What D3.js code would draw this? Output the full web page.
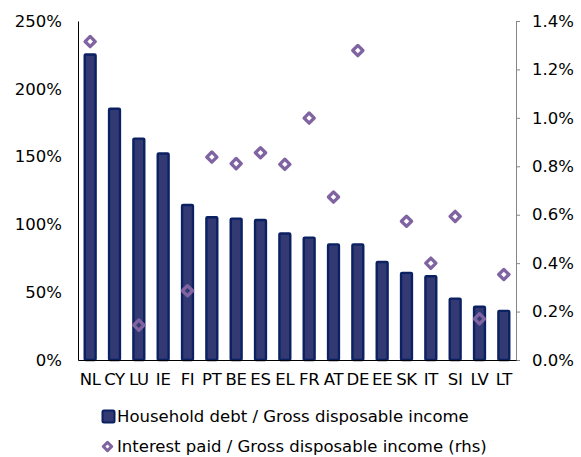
<!DOCTYPE html>
<html><head><meta charset="utf-8">
<script src="https://cdn.jsdelivr.net/npm/d3@7"></script>
<style>body{margin:0;background:#fff}svg{display:block;font-family:Verdana,"DejaVu Sans",sans-serif}</style>
</head><body><div id="chart"></div>
<script>
const categories = ["NL","CY","LU","IE","FI","PT","BE","ES","EL","FR","AT","DE","EE","SK","IT","SI","LV","LT"];
const householdDebt = [226,186,164,153,115,106,105,104,94,91,86,86,73,65,62.5,46,40,37];
const interestPaid = [1.315,null,0.144,null,0.286,0.838,0.811,0.856,0.808,0.999,0.673,1.278,null,0.573,0.40,0.593,0.17,0.353];
const leftTicks = [0,50,100,150,200,250];
const rightTicks = [0,0.2,0.4,0.6,0.8,1.0,1.2,1.4];
const seriesNames = ["Household debt / Gross disposable income","Interest paid / Gross disposable income (rhs)"];

const W=581,H=457,FS=16.5;
const FF="Verdana, 'DejaVu Sans', sans-serif";
const m={left:78,right:65,top:21,bottom:97};
const svg=d3.select("#chart").append("svg").attr("width",W).attr("height",H);
const x=d3.scaleBand().domain(categories).range([m.left,W-m.right]).paddingInner(0.47).paddingOuter(0.235);
const yL=d3.scaleLinear().domain([0,250]).range([H-m.bottom,m.top]);
const yR=d3.scaleLinear().domain([0,1.4]).range([H-m.bottom,m.top]);

// bars
svg.append("g").selectAll("rect").data(categories).join("rect")
  .attr("x",d=>x(d)+1).attr("width",x.bandwidth()-2)
  .attr("y",(d,i)=>yL(householdDebt[i])+1).attr("height",(d,i)=>yL(0)-yL(householdDebt[i])-1)
  .attr("rx",1).attr("fill","#333a73").attr("stroke","#0b2161").attr("stroke-width",2.4);

// left axis
const gL=svg.append("g").attr("transform",`translate(${m.left},0)`)
  .call(d3.axisLeft(yL).tickValues(leftTicks).tickSize(0).tickPadding(16).tickFormat(d=>d+"%"));
gL.select(".domain").attr("stroke","#000");
gL.selectAll("text").attr("font-size",FS).attr("fill","#000").attr("font-family",FF);

// right axis
const gR=svg.append("g").attr("transform",`translate(${W-m.right},0)`)
  .call(d3.axisRight(yR).tickValues(rightTicks).tickSize(4).tickSizeOuter(4).tickPadding(12).tickFormat(d=>d.toFixed(1)+"%"));
gR.selectAll(".domain,line").attr("stroke","#868686");
gR.selectAll("text").attr("font-size",FS).attr("fill","#000").attr("font-family",FF);

// bottom axis
const gB=svg.append("g").attr("transform",`translate(0,${H-m.bottom})`)
  .call(d3.axisBottom(x).tickSize(0).tickPadding(13));
gB.select(".domain").attr("stroke","#000");
gB.selectAll("text").attr("font-size",FS).attr("fill","#000").attr("font-family",FF).attr("letter-spacing","-0.3");

// diamonds
const pts=categories.map((c,i)=>({c,v:interestPaid[i]})).filter(d=>d.v!=null);
svg.append("g").selectAll("path").data(pts).join("path")
  .attr("d",d3.symbol().type(d3.symbolSquare).size(52))
  .attr("transform",d=>`translate(${x(d.c)+x.bandwidth()/2},${yR(d.v)}) rotate(45)`)
  .attr("fill","none").attr("stroke","#8064a2").attr("stroke-width",3.3).attr("stroke-linejoin","round");

// legend
const lg=svg.append("g");
lg.append("rect").attr("x",102.5).attr("y",410.5).attr("width",12).attr("height",12).attr("rx",1.5)
  .attr("fill","#333a73").attr("stroke","#0b2161").attr("stroke-width",2);
lg.append("path").attr("d",d3.symbol().type(d3.symbolSquare).size(36)).attr("transform","translate(107.5,446.5) rotate(45)")
  .attr("fill","none").attr("stroke","#8064a2").attr("stroke-width",3).attr("stroke-linejoin","round");
lg.selectAll("text").data(seriesNames).join("text")
  .attr("x",117).attr("y",(d,i)=>416.5+i*30).attr("dy","0.35em")
  .attr("font-size",FS).attr("font-family",FF).attr("fill","#000").text(d=>d);
</script></body></html>
